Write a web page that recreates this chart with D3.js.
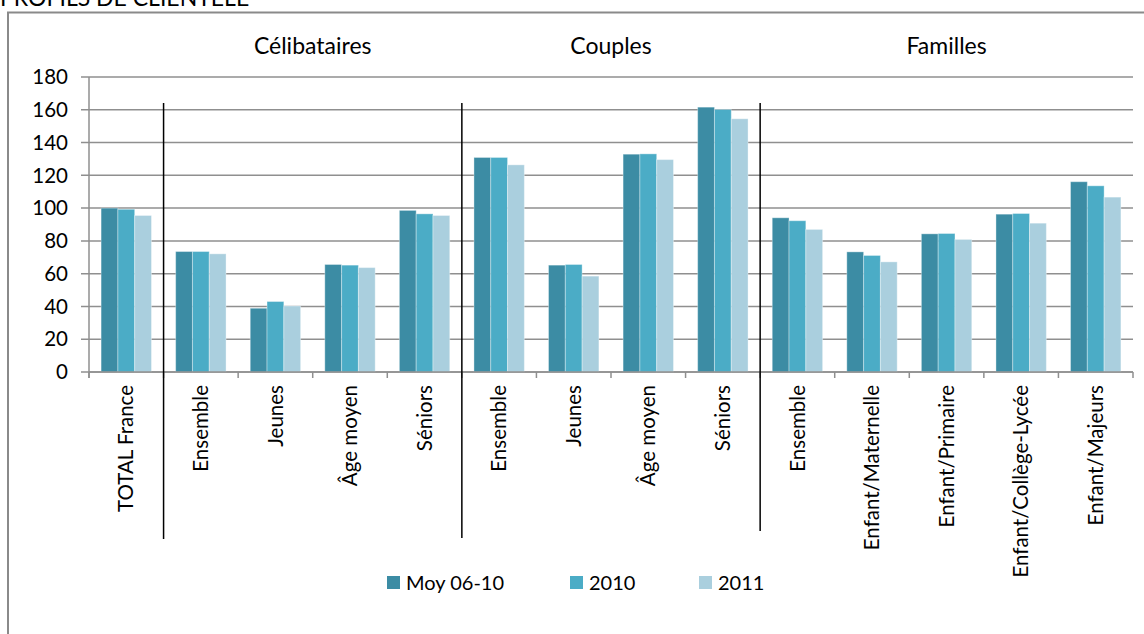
<!DOCTYPE html>
<html>
<head>
<meta charset="utf-8">
<script src="https://cdn.jsdelivr.net/npm/d3@7"></script>
<style>
  html, body { margin: 0; padding: 0; background: #fff; }
  svg { display: block; font-family: Lato, "Open Sans", sans-serif; }
</style>
</head>
<body>
<svg id="chart" width="1144" height="634"></svg>
<script>
// ---- data ----
const title = "PROFILS DE CLIENTELE";
const categories = ["TOTAL France", "Ensemble", "Jeunes", "Âge moyen", "Séniors",
  "Ensemble", "Jeunes", "Âge moyen", "Séniors",
  "Ensemble", "Enfant/Maternelle", "Enfant/Primaire", "Enfant/Collège-Lycée", "Enfant/Majeurs"];
const groups = ["Célibataires", "Couples", "Familles"];
const groupStart = [1, 5, 9];     // index of first category in each group
const groupEnd = [5, 9, 14];      // index after last category
const series = ["Moy 06-10", "2010", "2011"];
const moy0610 = [100, 73.5, 38.9, 65.6, 98.6, 130.9, 65.2, 132.9, 161.6, 94.1, 73.3, 84.3, 96.3, 116.1];
const y2010   = [99.3, 73.5, 43.0, 65.2, 96.5, 130.9, 65.6, 133.1, 160.2, 92.3, 71.1, 84.5, 96.7, 113.6];
const y2011   = [95.5, 72.1, 40.3, 63.7, 95.5, 126.4, 58.5, 129.6, 154.5, 87.0, 67.2, 80.9, 90.8, 106.7];
const yTicks = [0, 20, 40, 60, 80, 100, 120, 140, 160, 180];
const colors = ["#3c8ca4", "#4bacc6", "#aacfde"];

const seriesValues = [moy0610, y2010, y2011];
const rows = categories.map((c, i) => ({ key: i, label: c, values: seriesValues.map((s, j) => ({ s: series[j], v: s[i], j })) }));

const svg = d3.select("#chart");
const pLeft = 89, pRight = 1133, pTop = 77, pBottom = 372;

const x = d3.scaleBand().domain(rows.map(r => r.key)).range([pLeft, pRight]).paddingInner(0).paddingOuter(0);
const x1 = d3.scaleBand().domain(series).range([0, x.bandwidth()]).paddingInner(0).paddingOuter(0.72);
const y = d3.scaleLinear().domain([0, 180]).range([pBottom, pTop]);

// title (partly cut off at top, as in the source)
svg.append("text").attr("x", 0).attr("y", 6).attr("font-size", 23).attr("fill", "#000").text(title);

// outer border
svg.append("path").attr("d", "M8,640 L8,12.5 L1150,12.5").attr("fill", "none").attr("stroke", "#8a8a8a").attr("stroke-width", 2);

// gridlines
svg.append("g").selectAll("line").data(yTicks).join("line")
  .attr("x1", pLeft - 8).attr("x2", pRight)
  .attr("y1", d => y(d)).attr("y2", d => y(d))
  .attr("stroke", "#8f8f8f").attr("stroke-width", 1.5);

// y axis line
svg.append("line").attr("x1", pLeft).attr("x2", pLeft).attr("y1", y(180)).attr("y2", pBottom + 6)
  .attr("stroke", "#8f8f8f").attr("stroke-width", 1.5);

// y tick labels
svg.append("g").selectAll("text").data(yTicks).join("text")
  .attr("x", 68).attr("y", d => y(d)).attr("dy", "0.35em")
  .attr("text-anchor", "end").attr("font-size", 20.5).attr("fill", "#000")
  .text(d => d);

// bars
const cat = svg.append("g").selectAll("g").data(rows).join("g")
  .attr("transform", d => `translate(${x(d.key)},0)`);
cat.selectAll("rect").data(d => d.values).join("rect")
  .attr("x", d => x1(d.s)).attr("width", x1.bandwidth())
  .attr("y", d => y(d.v)).attr("height", d => y(0) - y(d.v))
  .attr("fill", d => colors[d.j])
  .attr("stroke", "#ffffff").attr("stroke-opacity", 0.35).attr("stroke-width", 1);

// x axis line & ticks
svg.append("line").attr("x1", pLeft).attr("x2", pRight).attr("y1", pBottom).attr("y2", pBottom)
  .attr("stroke", "#8f8f8f").attr("stroke-width", 1.5);
const tickPos = rows.map(r => x(r.key)).concat([pRight]);
svg.append("g").selectAll("line").data(tickPos).join("line")
  .attr("x1", d => d).attr("x2", d => d).attr("y1", pBottom).attr("y2", pBottom + 6)
  .attr("stroke", "#8f8f8f").attr("stroke-width", 1.5);

// category labels (rotated)
svg.append("g").selectAll("text").data(rows).join("text")
  .attr("transform", d => `translate(${x(d.key) + x.bandwidth() / 2},385) rotate(-90)`)
  .attr("dy", "0.35em").attr("text-anchor", "end")
  .attr("font-size", 20.5).attr("fill", "#000")
  .text(d => d.label);

// group separators
const sepBottoms = [539, 538, 531];
svg.append("g").selectAll("line").data(groupStart).join("line")
  .attr("x1", d => x(d)).attr("x2", d => x(d))
  .attr("y1", 103).attr("y2", (d, i) => sepBottoms[i])
  .attr("stroke", "#000").attr("stroke-width", 1.5);

// group labels
svg.append("g").selectAll("text").data(groups).join("text")
  .attr("x", (d, i) => (x(groupStart[i]) + (groupEnd[i] < categories.length ? x(groupEnd[i]) : pRight)) / 2)
  .attr("y", 54).attr("text-anchor", "middle")
  .attr("font-size", 23).attr("fill", "#000")
  .text(d => d);

// legend
const legX = [387, 570, 699];
const leg = svg.append("g").selectAll("g").data(series).join("g")
  .attr("transform", (d, i) => `translate(${legX[i]},576)`);
leg.append("rect").attr("width", 13).attr("height", 13).attr("fill", (d, i) => colors[i]);
leg.append("text").attr("x", 19).attr("y", 6.5).attr("dy", "0.36em")
  .attr("font-size", 20).attr("fill", "#000").text(d => d);
</script>
</body>
</html>
